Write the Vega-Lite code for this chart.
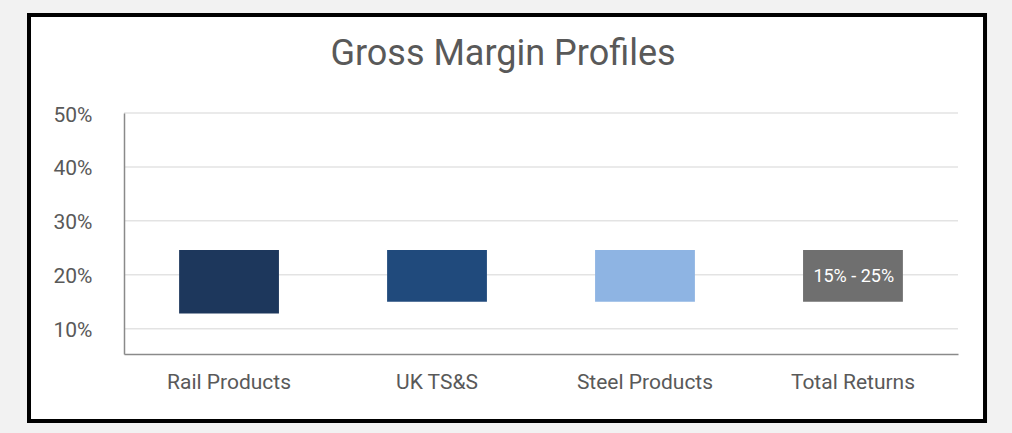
{
  "$schema": "https://vega.github.io/schema/vega-lite/v6.json",
  "autosize": "none",
  "width": 834,
  "height": 241,
  "padding": {"left": 124, "top": 113, "right": 54, "bottom": 79},
  "background": "#f2f2f2",
  "config": {
    "view": {"stroke": null},
    "font": "Roboto",
    "axis": {"labelFont": "Roboto", "labelFontSize": 21, "labelColor": "#595959"}
  },
  "title": {
    "text": "Gross Margin Profiles",
    "font": "Roboto",
    "fontSize": 36,
    "fontWeight": "normal",
    "color": "#595959",
    "anchor": "middle",
    "frame": "group",
    "dx": -38,
    "offset": -60
  },
  "datasets": {
    "bars": [
      {"segment": "Rail Products", "low": 12.8, "high": 24.6, "label": ""},
      {"segment": "UK TS&S", "low": 15.0, "high": 24.6, "label": ""},
      {"segment": "Steel Products", "low": 15.0, "high": 24.6, "label": ""},
      {"segment": "Total Returns", "low": 15.0, "high": 24.6, "label": "15% - 25%"}
    ],
    "grid": [
      {"tick": 10}, {"tick": 20}, {"tick": 30}, {"tick": 40}, {"tick": 50}
    ]
  },
  "layer": [
    {
      "data": {"values": [{}]},
      "mark": {"type": "rect", "fill": "white", "stroke": "black", "strokeWidth": 4, "clip": false},
      "encoding": {
        "x": {"datum": -0.1139, "type": "quantitative", "scale": {"domain": [0, 1]}, "axis": null},
        "x2": {"datum": 1.0324},
        "y": {"datum": 68.18, "type": "quantitative", "title": null},
        "y2": {"datum": -7.13}
      }
    },
    {
      "data": {"name": "grid"},
      "mark": {"type": "rule", "color": "#e3e3e3", "strokeWidth": 1.5},
      "encoding": {
        "y": {"field": "tick", "type": "quantitative", "title": null}
      }
    },
    {
      "data": {"name": "bars"},
      "mark": {"type": "bar"},
      "encoding": {
        "x": {
          "field": "segment", "type": "nominal", "sort": null,
          "scale": {"paddingInner": 0.52, "paddingOuter": 0.265},
          "axis": {"title": null, "domainColor": "#8a8a8a", "domainWidth": 1.5, "ticks": false, "labelAngle": 0, "labelPadding": 17, "zindex": 1}
        },
        "y": {
          "field": "low", "type": "quantitative", "title": null,
          "scale": {"domain": [5.3, 50], "zero": false, "nice": false},
          "axis": {"title": null, "values": [10, 20, 30, 40, 50], "labelExpr": "datum.value + '%'", "grid": false, "ticks": false, "domainColor": "#8a8a8a", "domainWidth": 1.5, "labelPadding": 32, "labelOffset": 2, "zindex": 1}
        },
        "y2": {"field": "high"},
        "color": {
          "field": "segment", "type": "nominal",
          "scale": {"domain": ["Rail Products", "UK TS&S", "Steel Products", "Total Returns"], "range": ["#1d375c", "#204a7c", "#8eb4e3", "#6f6f6f"]},
          "legend": null
        }
      }
    },
    {
      "data": {"name": "bars"},
      "transform": [{"calculate": "(datum.low + datum.high) / 2", "as": "mid"}],
      "mark": {"type": "text", "color": "white", "font": "Roboto", "fontSize": 18, "baseline": "middle", "align": "center", "dy": 1},
      "encoding": {
        "x": {"field": "segment", "type": "nominal", "sort": null},
        "y": {"field": "mid", "type": "quantitative", "title": null},
        "text": {"field": "label"}
      }
    }
  ],
  "resolve": {"scale": {"x": "independent"}, "axis": {"x": "independent"}}
}
